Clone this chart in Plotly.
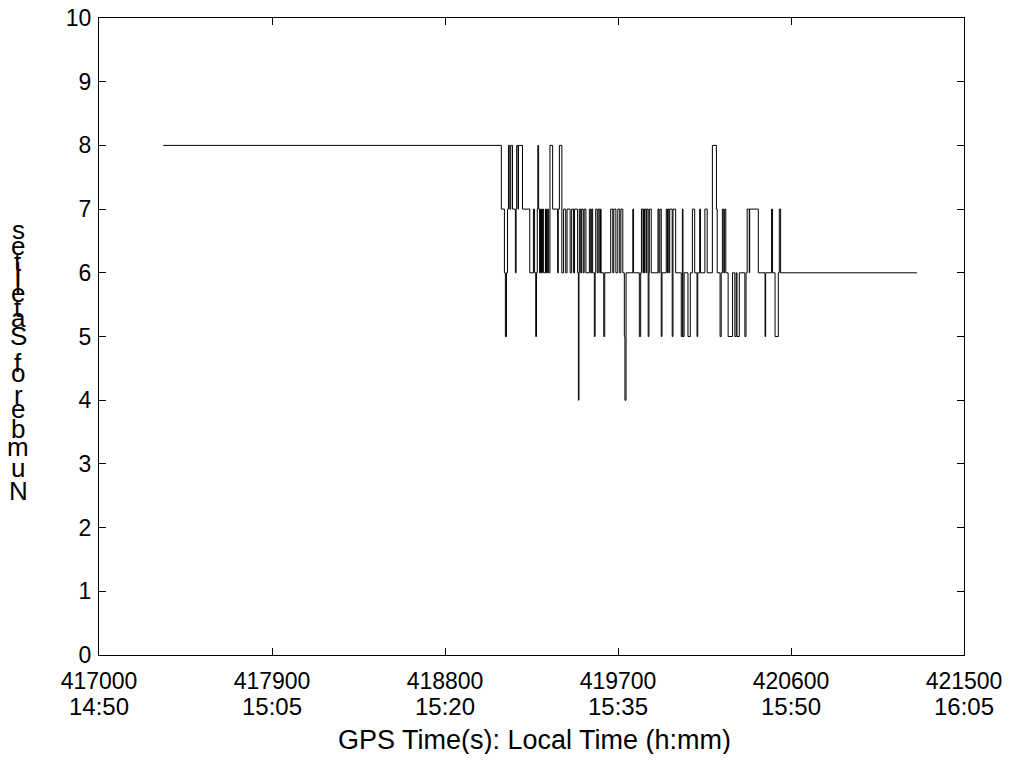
import plotly.graph_objects as go

# GPS time (s) at which each run starts, and number of satellites during that run
gps_time = [
    417334, 419093, 419109, 419114, 419120, 419125, 419130, 419137, 419142, 419151,
    419166, 419170, 419173, 419180, 419182, 419203, 419241, 419260, 419266, 419272,
    419276, 419280, 419283, 419287, 419292, 419297, 419302, 419307, 419313, 419323,
    419328, 419334, 419339, 419346, 419360, 419386, 419389, 419395, 419408, 419417,
    419428, 419435, 419451, 419459, 419469, 419474, 419490, 419494, 419497, 419499,
    419506, 419511, 419519, 419524, 419533, 419551, 419558, 419563, 419568, 419577,
    419581, 419584, 419592, 419597, 419605, 419609, 419612, 419626, 419631, 419662,
    419673, 419678, 419689, 419699, 419709, 419715, 419725, 419733, 419736, 419742,
    419777, 419781, 419811, 419818, 419822, 419830, 419833, 419837, 419840, 419847,
    419850, 419857, 419861, 419863, 419873, 419908, 419913, 419918, 419925, 419929,
    419951, 419957, 419960, 419965, 419969, 419982, 419986, 420000, 420029, 420035,
    420038, 420044, 420064, 420076, 420087, 420099, 420111, 420115, 420125, 420129,
    420152, 420164, 420191, 420212, 420216, 420231, 420237, 420243, 420250, 420255,
    420261, 420273, 420296, 420308, 420315, 420319, 420331, 420360, 420366, 420372,
    420383, 420385, 420430, 420465, 420468, 420499, 420504, 420517, 420534, 420539,
    420546, 421255,
]
num_sats = [
    8, 7, 6, 5, 6, 7, 8, 7, 8, 7,
    6, 7, 8, 7, 8, 7, 6, 7, 6, 5,
    6, 7, 8, 7, 6, 7, 6, 7, 6, 7,
    6, 7, 6, 8, 7, 6, 7, 8, 6, 7,
    6, 7, 6, 7, 6, 7, 6, 4, 6, 7,
    6, 7, 6, 7, 6, 7, 6, 7, 6, 5,
    6, 7, 6, 7, 6, 7, 6, 5, 6, 7,
    6, 7, 6, 7, 6, 7, 6, 5, 4, 6,
    7, 6, 5, 6, 7, 6, 7, 6, 7, 6,
    7, 5, 6, 7, 6, 7, 6, 7, 5, 6,
    7, 6, 7, 6, 7, 5, 7, 6, 5, 7,
    5, 6, 5, 6, 7, 6, 5, 6, 7, 6,
    7, 6, 8, 7, 6, 5, 6, 7, 6, 7,
    6, 5, 6, 5, 6, 5, 6, 5, 6, 7,
    6, 7, 6, 5, 6, 7, 6, 5, 6, 7,
    6, 6,
]

x_tick_vals = [417000, 417900, 418800, 419700, 420600, 421500]
x_tick_local = ["14:50", "15:05", "15:20", "15:35", "15:50", "16:05"]
y_tick_vals = list(range(0, 11))

x_title = "GPS Time(s): Local Time (h:mm)"
y_title = "Number of Satellites"

FONT = "Liberation Sans, Arial, sans-serif"

# page geometry (the page body adds an 8px offset)
OFF = 8
PL, PR, PT, PB = 99, 964, 18, 655          # plot area in screenshot pixels
W, H = 998, 746
PW, PH = PR - PL, PB - PT


def px_to_paper(ax, ay):
    return (ax - PL) / PW, (PB - ay) / PH


fig = go.Figure()
fig.add_trace(go.Scatter(
    x=gps_time, y=num_sats, mode="lines", line_shape="hv",
    line=dict(color="black", width=1), showlegend=False,
))

axis_common = dict(
    showgrid=False, zeroline=False, showline=True, linecolor="black", linewidth=1,
    mirror="ticks", ticks="inside", ticklen=7, tickcolor="black",
    tickfont=dict(family=FONT, size=23, color="black"), ticklabeloverflow="allow",
)

fig.update_xaxes(range=[417000, 421500], tickvals=x_tick_vals,
                 ticktext=[str(v) for v in x_tick_vals], ticklabelstandoff=5, **axis_common)
fig.update_yaxes(range=[0, 10], tickvals=y_tick_vals, ticklabelstandoff=2, **axis_common)

# second row of x tick labels (local time)
_, ly = px_to_paper(0, 706)
for v, t in zip(x_tick_vals, x_tick_local):
    fig.add_annotation(x=v, y=ly, xref="x", yref="paper", text=t, showarrow=False,
                       xanchor="center", yanchor="middle",
                       font=dict(family=FONT, size=24, color="black"))

# x-axis title
tx, ty = px_to_paper(534, 740)
fig.add_annotation(x=tx, y=ty, xref="paper", yref="paper", text=x_title, showarrow=False,
                   xanchor="center", yanchor="middle",
                   font=dict(family=FONT, size=27, color="black"))

# Vertical stacked y-axis label (upright characters, reading bottom to top)
widths = {"N": .722, "u": .556, "m": .833, "b": .556, "e": .556, "r": .333, " ": .278,
          "o": .556, "f": .278, "S": .667, "a": .556, "t": .278, "l": .222, "i": .222, "s": .5}
bottom_px = 502
em = 30.7
cum = 0.0
for ch in y_title:
    w = widths.get(ch, .556)
    if ch != " ":
        yc = bottom_px - (cum + w / 2) * em
        if ch.islower() and ch not in "bdfhklt":
            yc -= 3
        if ch == "S":
            yc -= 4
        ax_, ay_ = px_to_paper(18, yc)
        fig.add_annotation(
            x=ax_, y=ay_, xref="paper", yref="paper", xanchor="center", yanchor="middle",
            text=ch, showarrow=False, font=dict(family=FONT, size=26, color="black"),
        )
    cum += w

fig.update_layout(
    width=W, height=H,
    margin=dict(l=PL - OFF, r=W - (PR - OFF), t=PT - OFF, b=H - (PB - OFF), autoexpand=False),
    paper_bgcolor="white", plot_bgcolor="white",
    font=dict(family=FONT, color="black"),
)

fig.write_html("out.html")
